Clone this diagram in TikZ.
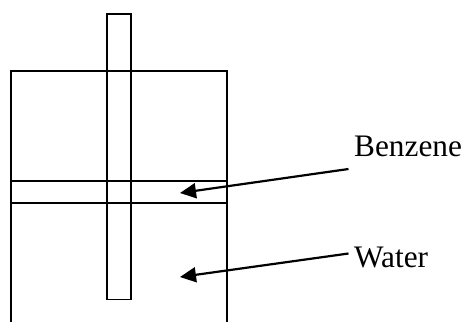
\documentclass[tikz,border=0pt]{standalone}
\usepackage{fontspec}
\setmainfont{Liberation Serif}
\usetikzlibrary{arrows.meta}
\tikzset{
  outline/.style={draw=black,line width=1.8pt,line join=miter},
  pointer/.style={draw=black,line width=2.2pt,-{Triangle[length=16pt,width=15pt]}},
  lbl/.style={inner sep=0pt,anchor=base west,font=\fontsize{31.3}{31.3}\selectfont}
}
\begin{document}
\begin{tikzpicture}[x=1pt,y=-1pt]
\useasboundingbox (0,0) rectangle (465,322);
\draw[outline] (11,322) -- (11,71) -- (227,71) -- (227,322);
\draw[outline] (11,181) -- (227,181);
\draw[outline] (11,203) -- (227,203);
\draw[outline] (106.6,14) -- (131,14) -- (131,299.5) -- (106.6,299.5) -- cycle;
\node[lbl] (benzene) at (354,156) {Benzene};
\node[lbl] (water) at (354,267) {Water};
\coordinate (bstart) at (348.5,169);
\coordinate (bend) at (180,193);
\coordinate (wstart) at (348.5,253.5);
\coordinate (wend) at (180,277);
\draw[pointer] (bstart) -- (bend);
\draw[pointer] (wstart) -- (wend);
\end{tikzpicture}
\end{document}
